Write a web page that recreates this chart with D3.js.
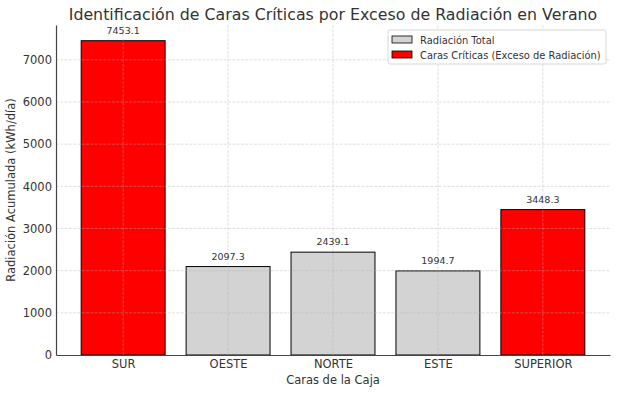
<!DOCTYPE html>
<html>
<head>
<meta charset="utf-8">
<script src="https://cdn.jsdelivr.net/npm/d3@7"></script>
<style>
  body { margin: 0; background: #fff; }
  text { font-family: "DejaVu Sans", sans-serif; }
</style>
</head>
<body>
<script>
const w = 617;
const h = 394;

// data
const faces = ["SUR", "OESTE", "NORTE", "ESTE", "SUPERIOR"];
const radiation = [7453.1, 2097.3, 2439.1, 1994.7, 3448.3];
const critical = [true, false, false, false, true];
const yTicks = [0, 1000, 2000, 3000, 4000, 5000, 6000, 7000];
const legendLabels = ["Radiación Total", "Caras Críticas (Exceso de Radiación)"];

const margin = {left: 56, right: 7, top: 25, bottom: 39};

const svg = d3.select("body").append("svg").attr("width", w).attr("height", h);

////  Scales  ////
const x = d3.scaleLinear()
    .domain([-0.64, faces.length - 1 + 0.64])
    .range([margin.left, w - margin.right]);

const y = d3.scaleLinear()
    .domain([0, d3.max(radiation) * 1.05])
    .range([h - margin.bottom, margin.top]);

const barW = x(0.8) - x(0);

////  Bars  ////
svg.selectAll("rect.bar")
    .data(radiation)
    .enter()
    .append("rect")
    .attr("class", "bar")
    .attr("x", (d, i) => x(i) - barW / 2)
    .attr("y", d => y(d))
    .attr("width", barW)
    .attr("height", d => y(0) - y(d))
    .attr("fill", (d, i) => critical[i] ? "#ff0000" : "#d3d3d3")
    .attr("stroke", "#000")
    .attr("stroke-width", 1);

////  Grid (drawn over bars, like the original)  ////
const grid = svg.append("g").attr("stroke", "#b0b0b0").attr("stroke-opacity", 0.5)
    .attr("stroke-width", 0.8).attr("stroke-dasharray", "3,1.3");
grid.selectAll("line.hy")
    .data(yTicks.slice(1))
    .enter()
    .append("line")
    .attr("x1", x.range()[0]).attr("x2", x.range()[1])
    .attr("y1", d => y(d)).attr("y2", d => y(d));
grid.selectAll("line.vx")
    .data(faces)
    .enter()
    .append("line")
    .attr("x1", (d, i) => x(i)).attr("x2", (d, i) => x(i))
    .attr("y1", y.range()[0]).attr("y2", y.range()[1]);

////  Value labels  ////
svg.selectAll("text.val")
    .data(radiation)
    .enter()
    .append("text")
    .attr("x", (d, i) => x(i))
    .attr("y", d => y(d) - 7)
    .attr("text-anchor", "middle")
    .attr("font-size", "9.5px")
    .attr("fill", "#333")
    .text(d => d.toFixed(1));

////  Axes  ////
const yAxis = svg.append("g")
    .attr("transform", `translate(${margin.left},0)`)
    .call(d3.axisLeft(y).tickValues(yTicks).tickFormat(d3.format("d")).tickSize(0).tickPadding(4));
const xAxis = svg.append("g")
    .attr("transform", `translate(0,${h - margin.bottom})`)
    .call(d3.axisBottom(x).tickValues(d3.range(faces.length)).tickFormat(i => faces[i]).tickSize(0).tickPadding(5));

[yAxis, xAxis].forEach(a => {
    a.select(".domain").attr("stroke", "#444").attr("stroke-width", 1.2);
    a.selectAll("text").attr("font-size", "11.5px").attr("fill", "#333")
        .attr("font-family", "DejaVu Sans, sans-serif");
});

////  Titles  ////
svg.append("text")
    .attr("x", (x.range()[0] + x.range()[1]) / 2)
    .attr("y", 20)
    .attr("text-anchor", "middle")
    .attr("font-size", "15.8px")
    .attr("fill", "#333")
    .text("Identificación de Caras Críticas por Exceso de Radiación en Verano");

svg.append("text")
    .attr("x", (x.range()[0] + x.range()[1]) / 2)
    .attr("y", 384)
    .attr("text-anchor", "middle")
    .attr("font-size", "11.5px")
    .attr("fill", "#333")
    .text("Caras de la Caja");

svg.append("text")
    .attr("transform", `translate(15,${(y.range()[0] + y.range()[1]) / 2}) rotate(-90)`)
    .attr("text-anchor", "middle")
    .attr("font-size", "11.5px")
    .attr("fill", "#333")
    .text("Radiación Acumulada (kWh/día)");

////  Legend  ////
const legend = svg.append("g").attr("transform", "translate(388,30)");
legend.append("rect")
    .attr("width", 218).attr("height", 34).attr("rx", 2)
    .attr("fill", "#fff").attr("fill-opacity", 0.85)
    .attr("stroke", "#ccc").attr("stroke-width", 0.8);
const item = legend.selectAll("g.item")
    .data(legendLabels)
    .enter()
    .append("g")
    .attr("transform", (d, i) => `translate(4,${6 + i * 15})`);
item.append("rect")
    .attr("width", 20).attr("height", 7)
    .attr("fill", (d, i) => i === 0 ? "#d3d3d3" : "#ff0000")
    .attr("stroke", "#000").attr("stroke-width", 0.8);
item.append("text")
    .attr("x", 28).attr("y", 7.5)
    .attr("font-size", "9.9px")
    .attr("fill", "#333")
    .text(d => d);
</script>
</body>
</html>
